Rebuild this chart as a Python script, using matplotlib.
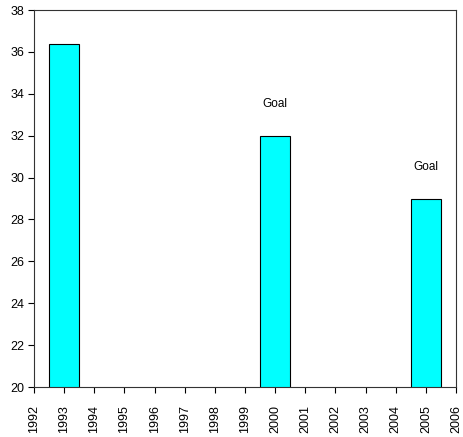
import matplotlib
matplotlib.use("Agg")
import matplotlib.pyplot as plt

plt.rcParams['font.family'] = ['Liberation Sans', 'DejaVu Sans']

years = [1993, 2000, 2005]
values = [36.4, 32.0, 29.0]
labels = ["", "Goal", "Goal"]
xticks = list(range(1992, 2007))
yticks = list(range(20, 39, 2))

fig = plt.figure(figsize=(4.64, 4.37), dpi=100)
ax = fig.add_axes([0.0733, 0.1144, 0.9095, 0.8627])

ax.bar(years, values, width=1.0, bottom=0, color="#00FFFF",
       edgecolor="black", linewidth=0.8)

for x, v, t in zip(years, values, labels):
    if t:
        ax.text(x, v + 1.5, t, ha="center", va="center", fontsize=8.5)

ax.set_xlim(1992, 2006)
ax.set_ylim(20, 38)
ax.set_xticks(xticks)
ax.set_xticklabels([str(y) for y in xticks], rotation=90, fontsize=9)
ax.set_yticks(yticks)
ax.set_yticklabels([str(y) for y in yticks], fontsize=9)
ax.tick_params(direction="out", length=4, width=0.8)
ax.tick_params(axis="x", pad=9)
ax.tick_params(axis="y", pad=3)

for s in ax.spines.values():
    s.set_linewidth(0.8)
    s.set_color("#333333")

fig.savefig("out.png", dpi=100)
